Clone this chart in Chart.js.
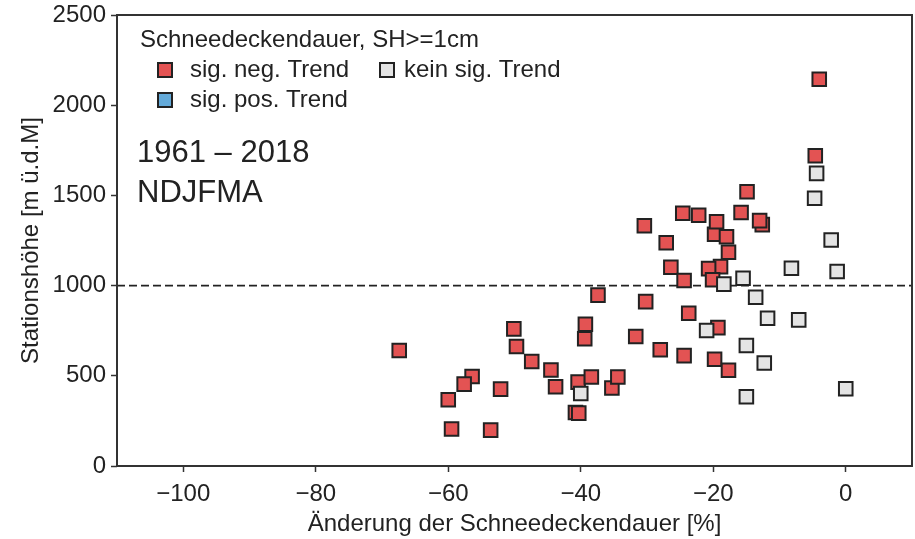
<!DOCTYPE html>
<html>
<head>
<meta charset="utf-8">
<script src="https://cdn.jsdelivr.net/npm/chart.js@4.4.1/dist/chart.umd.min.js"></script>
<style>
  html, body { margin: 0; padding: 0; background: #fff; }
  #wrap { width: 915px; height: 539px; }
</style>
</head>
<body>
<div id="wrap"><canvas id="chart"></canvas></div>
<script>
// change of snow cover duration [%] vs. station height [m]
const negX = [-67.4, -60.0, -59.5, -56.4, -57.6, -53.6, -52.1, -50.1, -49.7, -47.4, -44.5, -43.8, -40.8, -40.3, -40.4, -39.3, -39.4, -38.4, -37.4, -35.3, -34.4, -31.7, -30.4, -30.2, -28.0, -27.1, -26.4, -24.6, -24.4, -24.4, -23.7, -22.2, -18.9, -20.7, -20.1, -19.8, -19.5, -19.3, -19.8, -18.0, -17.7, -17.7, -15.8, -14.9, -12.6, -13.0, -4.0, -4.6];
const negY = [640, 367, 205, 496, 454, 199, 426, 760, 662, 579, 532, 439, 297, 293, 465, 786, 705, 493, 947, 432, 493, 718, 1332, 911, 644, 1238, 1102, 1401, 1028, 612, 847, 1390, 1105, 1094, 1032, 1285, 1354, 767, 592, 1271, 1185, 531, 1405, 1520, 1338, 1360, 2144, 1720];

const noneX = [-40.0, -21.0, -18.4, -15.5, -13.6, -15.0, -12.3, -15.0, -11.8, -8.2, -7.1, -2.2, -1.3, 0.0, -4.4, -4.7];
const noneY = [402, 751, 1008, 1041, 935, 668, 571, 384, 819, 1096, 810, 1253, 1078, 428, 1622, 1484];

const posX = [];
const posY = [];

const xTicks = [-100, -80, -60, -40, -20, 0];
const yTicks = [0, 500, 1000, 1500, 2000, 2500];
const refHeight = 1000;

const legendTitle = "Schneedeckendauer, SH>=1cm";
const labelNeg = "sig. neg. Trend";
const labelNone = "kein sig. Trend";
const labelPos = "sig. pos. Trend";
const periodLines = ["1961 \u2013 2018", "NDJFMA"];

const RED = "#e35353";
const GREY = "#e4e4e4";
const BLUE = "#64aad9";
const INK = "#222";
const FONT = "'Liberation Sans', Arial, Helvetica, sans-serif";

Chart.defaults.font.family = FONT;
Chart.defaults.font.size = 24;
Chart.defaults.color = INK;

function pts(xs, ys) {
    return xs.map((x, i) => ({ x: x, y: ys[i] }));
}

function minus(v) {
    return String(v).replace("-", "\u2212");
}

const pointStyle = {
    pointStyle: "rect",
    pointRadius: 9.6,
    pointHoverRadius: 9.6,
    borderColor: INK,
    borderWidth: 2
};

// frame around plot + dashed 1000 m line
const framePlugin = {
    id: "frame",
    beforeDatasetsDraw(chart) {
        const { ctx, chartArea: a, scales } = chart;
        const y = scales.y.getPixelForValue(refHeight);
        ctx.save();
        ctx.strokeStyle = INK;
        ctx.lineWidth = 1.6;
        ctx.setLineDash([8, 4]);
        ctx.beginPath();
        ctx.moveTo(a.left, y);
        ctx.lineTo(a.right, y);
        ctx.stroke();
        ctx.restore();
    },
    afterDraw(chart) {
        const { ctx, chartArea: a } = chart;
        ctx.save();
        ctx.strokeStyle = "#333";
        ctx.lineWidth = 2;
        ctx.strokeRect(a.left, a.top, a.right - a.left, a.bottom - a.top);
        ctx.restore();
    }
};

// legend block and period text in the upper left
const notePlugin = {
    id: "notes",
    afterDraw(chart) {
        const ctx = chart.ctx;
        ctx.save();
        ctx.fillStyle = INK;
        ctx.textBaseline = "middle";
        ctx.textAlign = "left";
        ctx.font = "24px " + FONT;
        ctx.fillText(legendTitle, 140, 40);

        const items = [
            [RED, labelNeg, 165, 70, 190],
            [GREY, labelNone, 387, 70, 404],
            [BLUE, labelPos, 165, 100, 190]
        ];
        items.forEach(([col, txt, mx, my, tx]) => {
            ctx.fillStyle = col;
            ctx.strokeStyle = INK;
            ctx.lineWidth = 2;
            ctx.fillRect(mx - 7, my - 7, 14, 14);
            ctx.strokeRect(mx - 7, my - 7, 14, 14);
            ctx.fillStyle = INK;
            ctx.fillText(txt, tx, my);
        });

        ctx.font = "31px " + FONT;
        ctx.fillText(periodLines[0], 137, 153);
        ctx.fillText(periodLines[1], 137, 193);
        ctx.restore();
    }
};

new Chart(document.getElementById("chart"), {
    type: "scatter",
    data: {
        datasets: [
            Object.assign({ label: labelNone, data: pts(noneX, noneY), backgroundColor: GREY, order: 0 }, pointStyle),
            Object.assign({ label: labelNeg, data: pts(negX, negY), backgroundColor: RED, order: 1 }, pointStyle),
            Object.assign({ label: labelPos, data: pts(posX, posY), backgroundColor: BLUE, order: 2 }, pointStyle)
        ]
    },
    options: {
        responsive: true,
        maintainAspectRatio: false,
        animation: false,
        layout: { autoPadding: false, padding: { left: 0, right: 3, top: 15, bottom: 0 } },
        plugins: {
            legend: { display: false },
            tooltip: { enabled: false }
        },
        scales: {
            x: {
                type: "linear",
                min: -110,
                max: 10,
                afterBuildTicks: s => { s.ticks = xTicks.map(v => ({ value: v })); },
                afterFit: s => { s.height = 73; s.paddingLeft = 0; s.paddingRight = 0; },
                ticks: { padding: 8, callback: v => minus(v), maxRotation: 0 },
                grid: { drawOnChartArea: false, drawTicks: true, tickLength: 6, tickColor: "#333", tickWidth: 1.5 },
                border: { display: false },
                title: { display: true, text: "Änderung der Schneedeckendauer [%]", padding: { top: 0, bottom: 0 } }
            },
            y: {
                type: "linear",
                min: 0,
                max: 2500,
                afterBuildTicks: s => { s.ticks = yTicks.map(v => ({ value: v })); },
                afterFit: s => { s.width = 117; s.paddingTop = 0; s.paddingBottom = 0; },
                ticks: { padding: 5, callback: v => String(v) },
                grid: { drawOnChartArea: false, drawTicks: true, tickLength: 6, tickColor: "#333", tickWidth: 1.5 },
                border: { display: false },
                title: { display: true, text: "Stationshöhe [m ü.d.M]", padding: { top: 17, bottom: 0 } }
            }
        }
    },
    plugins: [framePlugin, notePlugin]
});
</script>
</body>
</html>
